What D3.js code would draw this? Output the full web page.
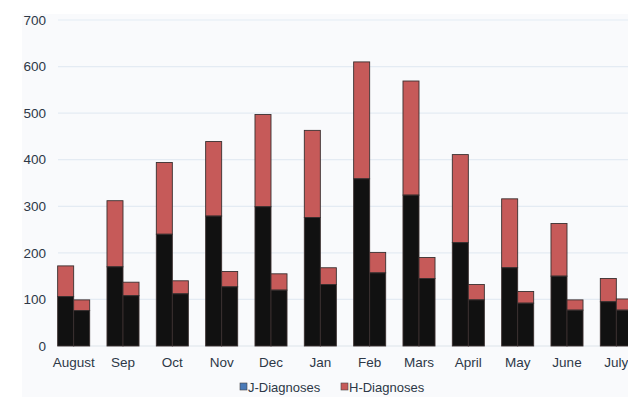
<!DOCTYPE html>
<html>
<head>
<meta charset="utf-8">
<script src="https://cdn.jsdelivr.net/npm/d3@7"></script>
<style>
  body { margin: 0; background: #fff; }
  svg { display: block; font-family: "Liberation Sans", Arial, sans-serif; }
</style>
</head>
<body>
<svg id="grafico"></svg>
<script>
"use strict"

// month categories
const meses = ['August', 'Sep', 'Oct', 'Nov', 'Dec', 'Jan', 'Feb', 'Mars', 'April', 'May', 'June', 'July'];
// first bar of each month: dark base and total height
const barra1Base  = [106, 170, 240, 279, 299, 276, 359, 324, 222, 168, 150, 95];
const barra1Total = [172, 312, 394, 439, 497, 463, 610, 569, 411, 316, 263, 145];
// second bar of each month
const barra2Base  = [76, 108, 112, 127, 120, 132, 157, 145, 99, 92, 77, 77];
const barra2Total = [99, 137, 140, 160, 155, 168, 201, 190, 132, 117, 99, 101];
const ticksY = [0, 100, 200, 300, 400, 500, 600, 700];
const legenda = ['J-Diagnoses', 'H-Diagnoses'];

function iniciar(){
  const largura = 628;
  const altura = 397;
  const svg = d3.select('#grafico').attr('width', largura).attr('height', altura);

  // painel de fundo
  svg.append('rect')
     .attr('x', 22).attr('y', 14)
     .attr('width', largura - 22).attr('height', altura - 14)
     .attr('fill', '#f9fafc');

  const x = d3.scaleBand().domain(meses).range([49, 641]).padding(0);
  const x1 = d3.scaleBand().domain([0, 1]).range([0, x.bandwidth()]).paddingOuter(0.54);
  const y = d3.scaleLinear().domain([0, 700]).range([346, 20]);

  // grade
  svg.selectAll('.grade')
     .data(ticksY)
     .enter()
       .append('line')
       .attr('x1', 58).attr('x2', largura)
       .attr('y1', d => y(d)).attr('y2', d => y(d))
       .attr('stroke', d => d === 0 ? '#dde3ea' : '#e4ebf3')
       .attr('stroke-width', 1.2);

  // eixo y
  svg.selectAll('.rotuloY')
     .data(ticksY)
     .enter()
       .append('text')
       .attr('x', 46)
       .attr('y', d => y(d))
       .attr('dy', '0.35em')
       .attr('text-anchor', 'end')
       .attr('font-size', 13.5)
       .attr('fill', '#2d3847')
       .text(d => d);

  const dados = meses.map((m, i) => ({
    mes: m,
    barras: [
      { k: 0, base: barra1Base[i], total: barra1Total[i] },
      { k: 1, base: barra2Base[i], total: barra2Total[i] }
    ]
  }));

  const grupos = svg.selectAll('.mes')
    .data(dados)
    .enter()
      .append('g')
      .attr('transform', d => `translate(${x(d.mes)},0)`);

  const barras = grupos.selectAll('.barra')
    .data(d => d.barras)
    .enter()
      .append('g');

  // parte vermelha (topo)
  barras.append('rect')
    .attr('x', d => x1(d.k))
    .attr('y', d => y(d.total))
    .attr('width', x1.bandwidth())
    .attr('height', d => y(d.base) - y(d.total))
    .attr('fill', '#c65a59')
    .attr('stroke', '#3a3030')
    .attr('stroke-width', 0.9);

  // parte escura (base)
  barras.append('rect')
    .attr('x', d => x1(d.k))
    .attr('y', d => y(d.base))
    .attr('width', x1.bandwidth())
    .attr('height', d => y(0) - y(d.base))
    .attr('fill', '#111111')
    .attr('stroke', '#3a3030')
    .attr('stroke-width', 0.9);

  // eixo x
  svg.selectAll('.rotuloX')
     .data(meses)
     .enter()
       .append('text')
       .attr('x', d => x(d) + x.bandwidth() / 2)
       .attr('y', 367)
       .attr('text-anchor', 'middle')
       .attr('font-size', 13.5)
       .attr('fill', '#2d3847')
       .text(d => d);

  // legenda
  const coresLegenda = ['#4a7ab8', '#c65a59'];
  const posLegenda = [240, 341];
  const itens = svg.selectAll('.legenda')
    .data(legenda)
    .enter()
      .append('g')
      .attr('transform', (d, i) => `translate(${posLegenda[i]},387)`);
  itens.append('rect')
    .attr('x', 0).attr('y', -4)
    .attr('width', 7).attr('height', 7)
    .attr('fill', (d, i) => coresLegenda[i])
    .attr('stroke', '#444').attr('stroke-width', 0.6);
  itens.append('text')
    .attr('x', 8).attr('y', 0)
    .attr('dy', '0.35em')
    .attr('font-size', 13)
    .attr('fill', '#2d3847')
    .text(d => d);
}

window.addEventListener('load', iniciar, false);
</script>
</body>
</html>
